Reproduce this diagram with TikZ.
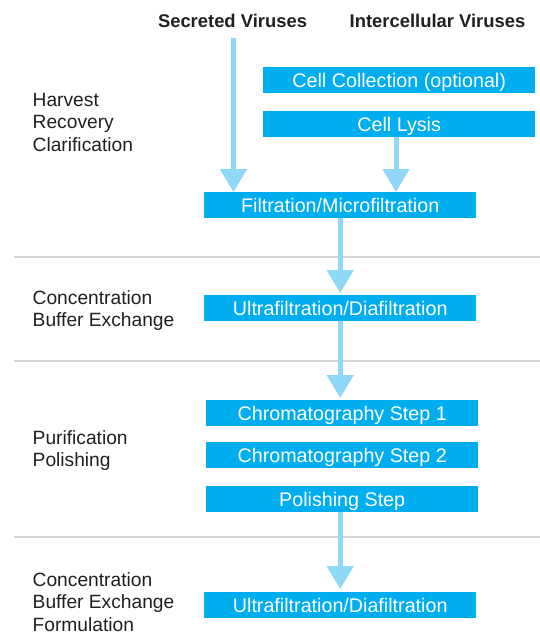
\documentclass[tikz,border=0pt]{standalone}
\usepackage{fontspec}
\setmainfont{Liberation Sans}
\usetikzlibrary{arrows.meta}
\definecolor{boxblue}{HTML}{00AEEF}
\definecolor{arrowblue}{HTML}{8FD8F7}
\definecolor{sepgray}{HTML}{D4D4D4}
\definecolor{txt}{HTML}{231F20}
\begin{document}
\begin{tikzpicture}[x=1pt,y=-1pt,
  stepbox/.style={fill=boxblue, text=white, minimum width=272pt, minimum height=26pt, inner sep=0pt,
    font=\fontsize{19.7}{22}\selectfont, text height=13.9pt, text depth=0pt, anchor=north west},
  lbl/.style={anchor=base west, inner sep=0pt, text=txt, font=\fontsize{19.2}{22}\selectfont},
  hdr/.style={anchor=base, inner sep=0pt, text=txt, font=\fontsize{18.4}{22}\selectfont\bfseries},
  flow/.style={draw=arrowblue, line width=5pt, -{Triangle[width=26pt,length=23pt]}},
  sep/.style={draw=sepgray, line width=2pt}]
\useasboundingbox (0,0) rectangle (540,635);

% headers
\node[hdr] (hsec) at (232.5,27) {Secreted Viruses};
\node[hdr] (hint) at (437.5,27) {Intercellular Viruses};

% separators
\draw[sep] (14,256.5) -- (540,256.5);
\draw[sep] (14,360.7) -- (540,360.7);
\draw[sep] (14,536.7) -- (540,536.7);

% step boxes
\node[stepbox] (coll)  at (263,67)  {Cell Collection (optional)};
\node[stepbox] (lysis) at (263,111) {Cell Lysis};
\node[stepbox] (filt)  at (204,192) {Filtration/Microfiltration};
\node[stepbox] (uf1)   at (204,295) {Ultrafiltration/Diafiltration};
\node[stepbox] (ch1)   at (206,400) {Chromatography Step 1};
\node[stepbox] (ch2)   at (206,442) {Chromatography Step 2};
\node[stepbox] (pol)   at (206,486) {Polishing Step};
\node[stepbox] (uf2)   at (204,592) {Ultrafiltration/Diafiltration};

% arrows
\coordinate (sv) at (233.5,38);
\coordinate (lx) at (396,0);
\draw[flow] (sv) -- (sv |- filt.north);
\draw[flow] (lx |- lysis.south) -- (lx |- filt.north);
\draw[flow, shorten >=2pt] (filt.south) -- (uf1.north);
\draw[flow, shorten >=2pt] (uf1.south) -- (uf1.south |- ch1.north);
\draw[flow, shorten >=3pt] (uf2.north |- pol.south) -- (uf2.north);

% stage labels
\node[lbl] (l1a) at (32.5,106)   {Harvest};
\node[lbl] (l1b) at (32.5,128.5) {Recovery};
\node[lbl] (l1c) at (32.5,151)   {Clarification};
\node[lbl] (l2a) at (32.5,304)   {Concentration};
\node[lbl] (l2b) at (32.5,326.5) {Buffer Exchange};
\node[lbl] (l3a) at (32.5,444)   {Purification};
\node[lbl] (l3b) at (32.5,466)   {Polishing};
\node[lbl] (l4a) at (32.5,586.7) {Concentration};
\node[lbl] (l4b) at (32.5,608.8) {Buffer Exchange};
\node[lbl] (l4c) at (32.5,631)   {Formulation};
\end{tikzpicture}
\end{document}
